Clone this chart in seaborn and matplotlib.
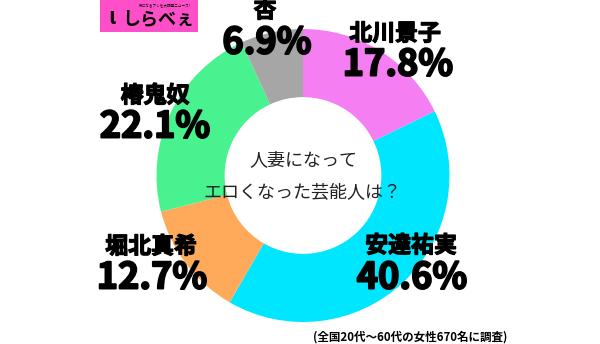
import matplotlib
matplotlib.use("Agg")
import matplotlib.pyplot as plt
import matplotlib.patheffects as pe
import seaborn as sns
from matplotlib.patches import Rectangle

sns.set_theme(style="white")
plt.rcParams['font.family'] = ['Noto Sans CJK JP', 'DejaVu Sans']

# ---- data ----
names = ["北川景子", "安達祐実", "堀北真希", "椿鬼奴", "杏"]
values = [17.8, 40.6, 12.7, 22.1, 6.9]
pct_labels = ["17.8%", "40.6%", "12.7%", "22.1%", "6.9%"]
colors = ["#F57EF2", "#00E6FF", "#FFA95B", "#48F28E", "#A6A6A6"]
title_lines = ["人妻になって", "エロくなった芸能人は？"]
footnote = "(全国20代～60代の女性670名に調査)"

# label positions (pixel coords, top-left origin): name centre, percent centre
name_pos = [(395, 34), (411, 246), (151, 247), (155, 96), (265, 11)]
pct_pos = [(398, 65), (412, 278), (152, 278), (155, 127), (267, 43)]

W, H = 600, 344
fig = plt.figure(figsize=(6.0, 3.44), dpi=100)
ax = fig.add_axes([0, 0, 1, 1])

R = 146.5
cx, cy = 303, H - 175.5
ax.pie(values, colors=sns.color_palette(colors), startangle=90, counterclock=False,
       radius=R, center=(cx, cy), wedgeprops=dict(width=R * 0.465, linewidth=0))
ax.set_xlim(0, W)
ax.set_ylim(0, H)
ax.set_aspect('equal')
ax.axis('off')

heavy_small = [pe.withStroke(linewidth=0.9, foreground='black')]
heavy_big = [pe.withStroke(linewidth=1.4, foreground='black')]

for n, (x, y) in zip(names, name_pos):
    ax.text(x, H - y, n, ha='center', va='center', fontsize=16.5,
            fontweight='bold', color='black', path_effects=heavy_small)
for p, (x, y) in zip(pct_labels, pct_pos):
    ax.text(x, H - y, p, ha='center', va='center', fontsize=26,
            fontweight='bold', color='black', path_effects=heavy_big)

ax.text(303, H - 160, title_lines[0], ha='center', va='center',
        fontsize=13, color='#222222')
ax.text(302, H - 192, title_lines[1], ha='center', va='center',
        fontsize=13, color='#222222')

ax.text(410, H - 337, footnote, ha='center', va='center', fontsize=8.3,
        fontweight='bold', color='black')

# logo
ax.add_patch(Rectangle((100, H - 32), 98, 32, facecolor='#FF4FC8', edgecolor='none'))
ax.text(112, H - 18, "ι", ha='center', va='center', fontsize=16,
        fontweight='bold', color='black')
ax.text(158, H - 19, "しらべぇ", ha='center', va='center', fontsize=13,
        fontweight='bold', color='black')
ax.text(165, H - 6, "気になるアレを大調査ニュース!", ha='center', va='center',
        fontsize=2.6, color='black')

fig.savefig("out.png", dpi=100)
